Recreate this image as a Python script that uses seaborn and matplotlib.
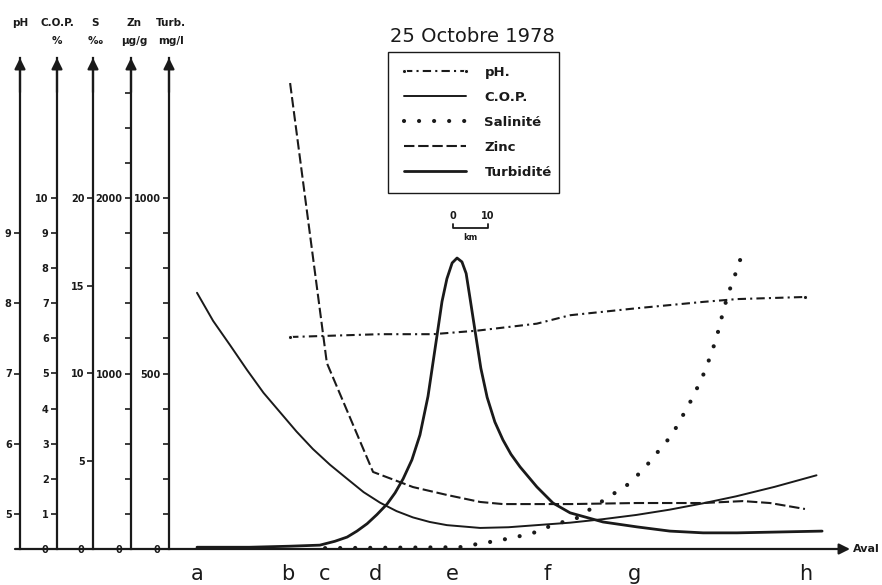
import matplotlib
matplotlib.use("Agg")
import matplotlib.pyplot as plt
import seaborn as sns
from matplotlib.patches import Rectangle
from matplotlib.transforms import blended_transform_factory

# stations along the estuary, km downstream of a
stations = ["a", "b", "c", "d", "e", "f", "g", "h"]
station_km = [0, 26, 36.5, 51, 73, 100, 125, 174]

# C.O.P. (%)
cop_km = [0, 4.6, 9.5, 14.3, 19, 23.7, 28.4, 33.1, 38, 42.9, 47.6, 52.3, 57, 61.7, 66.5, 71.4,
          80.9, 89, 97.1, 106.6, 116, 125.5, 135, 144.5, 154, 165, 177]
cop_pct = [7.3, 6.5, 5.8, 5.1, 4.45, 3.9, 3.35, 2.85, 2.4, 2.0, 1.62, 1.32, 1.08, 0.9, 0.77, 0.68,
           0.6, 0.62, 0.68, 0.75, 0.85, 0.97, 1.12, 1.3, 1.5, 1.77, 2.1]

# turbidite (mg/l)
turb_km = [0, 15, 26.6, 35.1, 39.4, 42.9, 45.7, 48.6, 51.4, 54.3, 56.6, 58.9, 61.4, 63.7, 66,
           68.6, 70, 71.4, 72.9, 74.3, 75.7, 76.9, 78, 79.7, 81.1, 82.9, 85.1, 87.4, 89.7,
           92.3, 97.1, 101.7, 106.6, 116, 125.7, 135.1, 144.6, 154.3, 178.6]
turb_mgl = [5, 5, 8, 11, 22, 34, 51, 72, 98, 128, 160, 200, 254, 325, 435,
            610, 705, 770, 815, 829, 818, 785, 715, 605, 515, 432, 362, 311, 270,
            234, 177, 131, 103, 77, 63, 51, 46, 46, 51]

# pH
ph_km = [26.6, 52.3, 67.4, 80, 97.1, 106.6, 125.7, 144.6, 154.3, 173.7]
ph_val = [7.52, 7.56, 7.56, 7.61, 7.71, 7.83, 7.93, 8.02, 8.06, 8.09]

# zinc (ug/g)
zn_km = [26.6, 37.1, 50.3, 61.7, 71.4, 80.9, 87.4, 106.6, 125.7, 144.6, 156, 163.7, 173.7]
zn_val = [2655, 1060, 439, 353, 308, 268, 256, 256, 262, 262, 273, 262, 228]

# salinite (per mille)
sal_km = [36.6, 75, 80, 83.7, 90, 96, 101.7, 108.6, 117.1, 122.9, 127.4, 131.4, 135.7,
          138.9, 141.7, 144.6, 147.1, 148.9, 150.3, 151.7, 153.7, 155.4]
sal_val = [0.05, 0.1, 0.28, 0.4, 0.63, 0.91, 1.37, 1.77, 2.9, 3.65, 4.5, 5.47, 6.5,
           7.64, 8.66, 9.9, 11.2, 12.4, 13.5, 14.5, 15.6, 16.6]

scale_km = [73, 83]

W, H = 882, 585
BASE, TOP = 549, 58
A_PX, PX_KM = 197, 3.5
COP_TOP = (BASE - TOP) / 35.1


def left_axis(a, x_px, ticks, minor=None):
    for s in a.spines.values():
        s.set_visible(False)
    sp = a.spines["left"]
    sp.set_visible(True)
    sp.set_position(("axes", x_px / W))
    sp.set_linewidth(1.6)
    sp.set_color("k")
    a.yaxis.set_ticks_position("left")
    a.set_yticks(ticks, [str(t) for t in ticks])
    a.tick_params(axis="y", which="both", direction="out", length=4, width=1.2,
                  pad=2, labelsize=7, colors="k")
    for lab in a.get_yticklabels():
        lab.set_fontweight("bold")
    if minor is not None:
        a.set_yticks(minor, minor=True)
    a.set_ylabel("")
    a.annotate("", xy=(x_px / W, 1.0), xytext=(x_px / W, 0.93), xycoords="axes fraction",
               arrowprops=dict(arrowstyle="-|>", color="k", lw=1.6, mutation_scale=16,
                               shrinkA=0, shrinkB=0))


def main():
    sns.set_theme(style="white")
    plt.rcParams["font.family"] = ["DejaVu Sans"]
    plt.rcParams["text.color"] = "k"

    fig = plt.figure(figsize=(8.82, 5.85), dpi=100)
    ax = fig.add_axes([0, 1 - BASE / H, 1, (BASE - TOP) / H])
    ax.patch.set_visible(False)
    ax.set_xlim(-A_PX / PX_KM, (W - A_PX) / PX_KM)
    ax.set_ylim(0, COP_TOP)

    ax_ph = ax.twinx()
    ax_ph.set_ylim(4.5, 4.5 + COP_TOP / 2)
    ax_s = ax.twinx()
    ax_s.set_ylim(0, COP_TOP * 2)
    ax_zn = ax.twinx()
    ax_zn.set_ylim(0, COP_TOP * 200)
    ax_tu = ax.twinx()
    ax_tu.set_ylim(0, COP_TOP * 100)

    left_axis(ax_ph, 20, [5, 6, 7, 8, 9])
    left_axis(ax, 57, list(range(0, 11)))
    left_axis(ax_s, 93, [0, 5, 10, 15, 20])
    left_axis(ax_zn, 131, [0, 1000, 2000], minor=list(range(200, 2800, 200)))
    left_axis(ax_tu, 169, [0, 500, 1000], minor=list(range(100, 1000, 100)))

    # stations on the horizontal axis
    ax.set_xticks(station_km, stations)
    ax.tick_params(axis="x", direction="out", length=8, width=1.2, pad=3,
                   labelsize=15, colors="k")
    ax.annotate("", xy=(850 / W, 0), xytext=(15 / W, 0), xycoords="axes fraction",
                arrowprops=dict(arrowstyle="-|>", color="k", lw=1.6, mutation_scale=16,
                                shrinkA=0, shrinkB=0))
    fig.text(853 / W, 1 - BASE / H, "Aval", fontsize=8, fontweight="bold",
             ha="left", va="center")

    kw = dict(color="k", estimator=None, errorbar=None, legend=False, sort=False)
    sns.lineplot(x=ph_km, y=ph_val, ax=ax_ph, lw=1.5, linestyle=(0, (4, 2, 1, 2)),
                 marker="o", ms=3, markevery=[0, -1], label="pH.", **kw)
    sns.lineplot(x=cop_km, y=cop_pct, ax=ax, lw=1.4, label="C.O.P.", **kw)
    sns.lineplot(x=sal_km, y=sal_val, ax=ax_s, lw=3, linestyle=(0, (0.01, 3.6)),
                 dash_capstyle="round", label="Salinité", **kw)
    sns.lineplot(x=zn_km, y=zn_val, ax=ax_zn, lw=1.5, linestyle=(0, (5, 1.8)),
                 label="Zinc", **kw)
    sns.lineplot(x=turb_km, y=turb_mgl, ax=ax_tu, lw=2.0, label="Turbidité", **kw)

    handles = [ax_ph.lines[0], ax.lines[0], ax_s.lines[0], ax_zn.lines[0], ax_tu.lines[0]]
    fig.legend(handles, [h.get_label() for h in handles], loc="upper left",
               bbox_to_anchor=(400 / W, 1 - 66 / H), frameon=False,
               handlelength=5.3, handletextpad=1.1, labelspacing=0.9,
               borderpad=0, borderaxespad=0, numpoints=2,
               prop=dict(size=9.5, weight="bold"))
    fig.add_artist(Rectangle((388 / W, 1 - 193 / H), 171 / W, 141 / H,
                             transform=fig.transFigure, fill=False, ec="k", lw=1.0))

    # scale bar (10 km)
    trans = blended_transform_factory(ax.transData, fig.transFigure)
    yb = 1 - 228 / H
    ax.plot([scale_km[0], scale_km[0], scale_km[1], scale_km[1]],
            [yb + 0.006, yb, yb, yb + 0.006], transform=trans, color="k", lw=1.3,
            clip_on=False)
    for km, txt in zip(scale_km, ["0", "10"]):
        ax.text(km, 1 - 216 / H, txt, transform=trans, ha="center", va="center",
                fontsize=7, fontweight="bold")
    ax.text(sum(scale_km) / 2, 1 - 238 / H, "km", transform=trans, ha="center",
            va="center", fontsize=6, fontweight="bold")

    fig.text(472 / W, 1 - 37 / H, "25 Octobre 1978", fontsize=14, ha="center", va="center")

    heads = [(20, "pH", ""), (57, "C.O.P.", "%"), (95, "S", "‰"), (134, "Zn", "µg/g"),
             (171, "Turb.", "mg/l")]
    for x_px, top, unit in heads:
        fig.text(x_px / W, 1 - 23 / H, top, fontsize=7.5, fontweight="bold",
                 ha="center", va="center")
        fig.text(x_px / W, 1 - 41 / H, unit, fontsize=7.5, fontweight="bold",
                 ha="center", va="center")

    fig.savefig("out.png", dpi=100)


if __name__ == "__main__":
    main()
